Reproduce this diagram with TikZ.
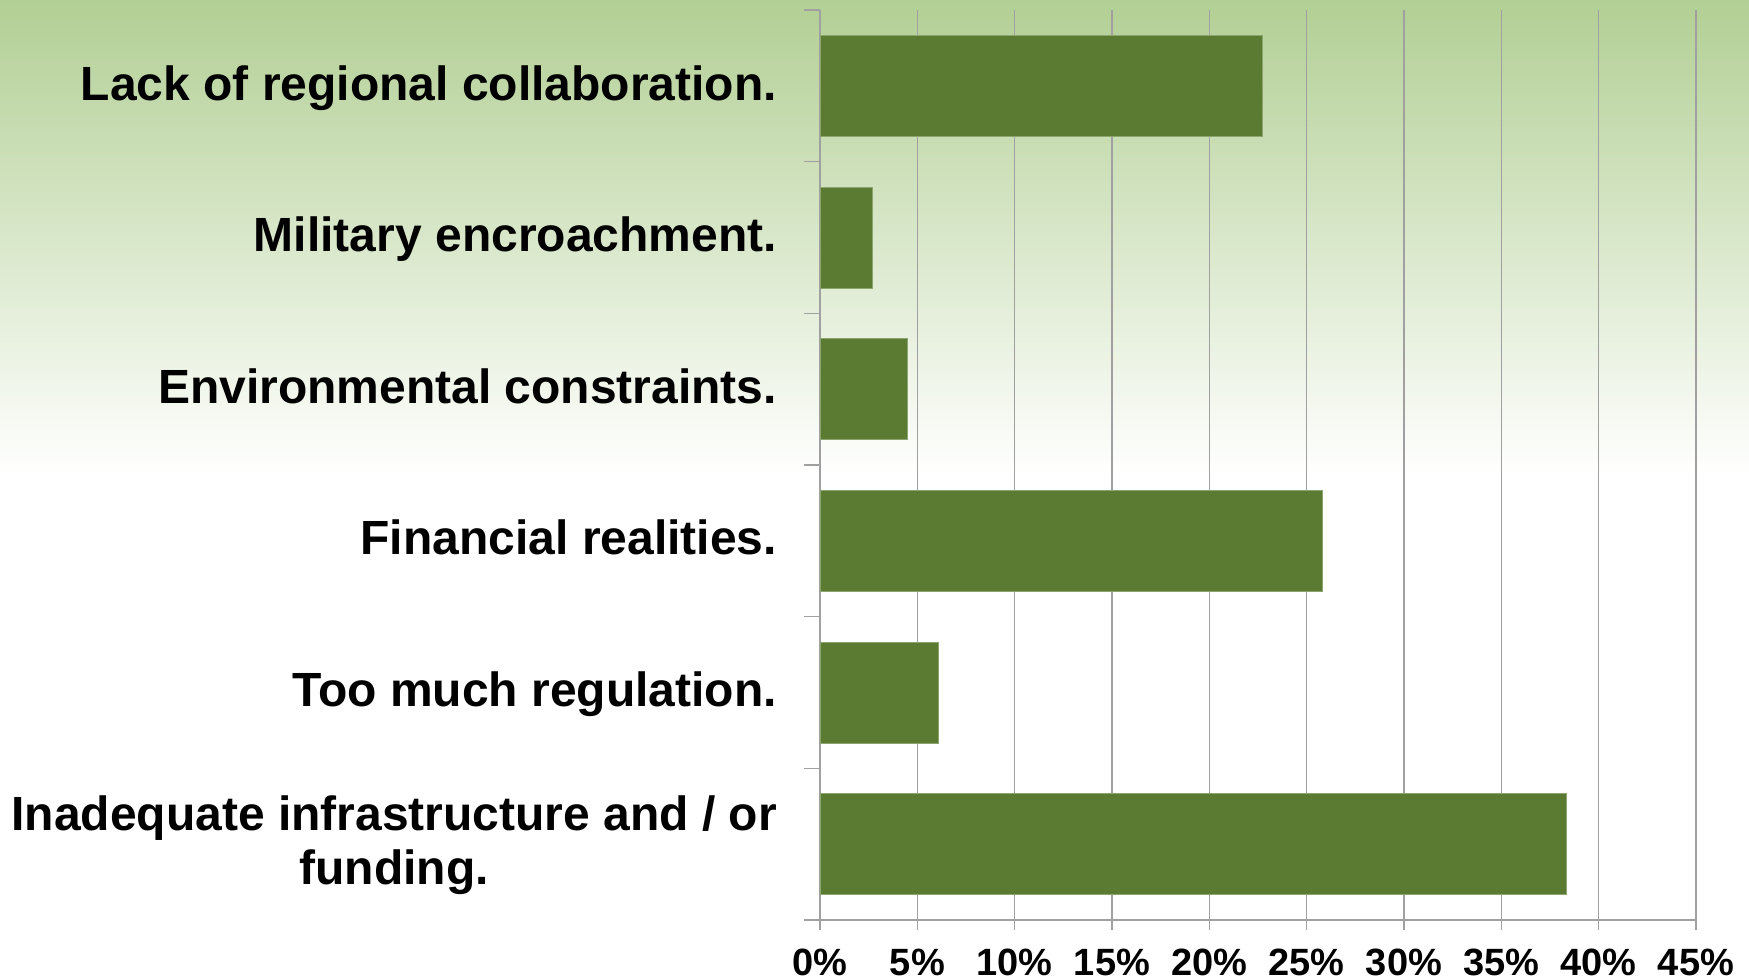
\documentclass[tikz,border=0pt]{standalone}
\usepackage{fontspec}
\setmainfont{Liberation Sans}
\definecolor{bgtop}{RGB}{178,207,148}
\definecolor{barfill}{RGB}{91,123,50}
\definecolor{baredge}{RGB}{140,165,110}
\definecolor{gridgray}{RGB}{160,160,160}
\tikzset{
  gridline/.style={gridgray, line width=1.5pt},
  bar/.style={fill=barfill, draw=baredge, line width=0.8pt},
  catlabel/.style={inner sep=0pt, anchor=base east, font=\fontsize{48}{54}\selectfont\bfseries},
  ticklabel/.style={inner sep=0pt, anchor=base, font=\fontsize{38}{44}\selectfont\bfseries}
}
\begin{document}
\begin{tikzpicture}[x=1pt, y=-1pt]
        \useasboundingbox (0,0) rectangle (1749,980);
        \fill[white] (0,0) rectangle (1749,980);
        \shade[top color=bgtop, bottom color=white] (0,0) rectangle (1749,475);

        % vertical gridlines and ticks below the axis
        \foreach \k in {1,...,9}
            \draw[gridline] (820+97.33*\k,10) -- (820+97.33*\k,930);

        % axes
        \draw[gridline] (820,10) -- (820,930);
        \draw[gridline] (804,920) -- (1696,920);
        \foreach \i in {0,...,5}
            \draw[gridline] (804,10+151.67*\i) -- (820,10+151.67*\i);

        % bars (1% = 19.467)
        \filldraw[bar] (820,35.3) rectangle (1262.3,136.3);
        \filldraw[bar] (820,187.0) rectangle (872.0,288.0);
        \filldraw[bar] (820,338.6) rectangle (907.7,439.6);
        \filldraw[bar] (820,490.3) rectangle (1322.0,591.3);
        \filldraw[bar] (820,642.0) rectangle (938.7,743.0);
        \filldraw[bar] (820,793.6) rectangle (1566.0,894.6);

        % category labels
        \node[catlabel] (collab) at (777,100) {Lack of regional collaboration.};
        \node[catlabel] (military) at (777,251.5) {Military encroachment.};
        \node[catlabel] (environ) at (777,403.2) {Environmental constraints.};
        \node[catlabel] (finance) at (777,554.8) {Financial realities.};
        \node[catlabel] (regul) at (777,706.5) {Too much regulation.};
        \node[catlabel, anchor=east, align=center] (infra) at (777,845)
            {Inadequate infrastructure and / or\\funding.};

        % percent labels
        \foreach \k in {0,...,9}
            \node[ticklabel] (pct\k) at (820+97.33*\k,975) {\number\numexpr5*\k\relax\%};
\end{tikzpicture}
\end{document}
